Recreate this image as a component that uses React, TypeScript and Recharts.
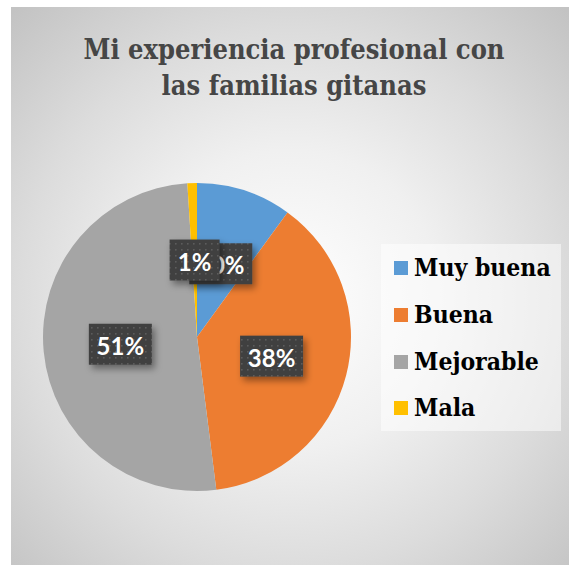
import React from 'react';
import { PieChart, Pie, Cell, Legend } from 'recharts';

const categories = ['Muy buena', 'Buena', 'Mejorable', 'Mala'];
const shares = [10, 38, 51, 1];
const colors = ['#5B9BD5', '#ED7D31', '#A5A5A5', '#FFC000'];
const titleLines = ['Mi experiencia profesional con', 'las familias gitanas'];

const data = categories.map((name, i) => ({ name, value: shares[i] }));

const RAD = Math.PI / 180;
const SERIF = "'DejaVu Serif', serif";

function renderLabel(props: any) {
  const { cx, cy, midAngle, outerRadius, value } = props;
  const r = outerRadius * 0.5;
  const x = cx + r * Math.cos(-midAngle * RAD);
  const y = cy + r * Math.sin(-midAngle * RAD);
  const text = `${value}%`;
  const w = text.length > 2 ? 63 : 50;
  const h = 41;
  return (
    <g>
      <rect
        x={x - w / 2}
        y={y - h / 2}
        width={w}
        height={h}
        fill="url(#dots)"
        filter="url(#boxShadow)"
      />
      <text
        x={x}
        y={y + 1}
        textAnchor="middle"
        dominantBaseline="central"
        fill="#ffffff"
        fontFamily="Lato, 'Open Sans', sans-serif"
        fontWeight="bold"
        fontSize={24}
      >
        {text}
      </text>
    </g>
  );
}

function renderLegend() {
  return (
    <div
      style={{
        width: 180,
        height: 187,
        background: 'rgba(255,255,255,0.5)',
        boxSizing: 'border-box',
        paddingTop: 1,
      }}
    >
      {categories.map((name, i) => (
        <div
          key={name}
          style={{ height: 46.7, display: 'flex', alignItems: 'center', whiteSpace: 'nowrap' }}
        >
          <span
            style={{
              display: 'inline-block',
              width: 14,
              height: 14,
              marginLeft: 13,
              marginRight: 6,
              background: colors[i],
            }}
          />
          <span
            style={{
              fontFamily: SERIF,
              fontStretch: 'condensed',
              fontWeight: 'bold',
              fontSize: 24.5,
              lineHeight: '30px',
              color: '#000',
            }}
          >
            {name}
          </span>
        </div>
      ))}
    </div>
  );
}

export default function App() {
  return (
    <div
      style={{
        position: 'absolute',
        left: 11,
        top: 7,
        width: 558,
        height: 558,
        background:
          'radial-gradient(circle at 279px 293px, #ffffff 0px, #f0f0f0 150px, #dcdcdc 270px, #c3c3c3 400px)',
      }}
    >
      <div
        style={{
          position: 'absolute',
          top: 25,
          left: 0,
          width: 558,
          paddingLeft: 8,
          boxSizing: 'border-box',
          textAlign: 'center',
          whiteSpace: 'nowrap',
          fontFamily: SERIF,
          fontStretch: 'condensed',
          fontWeight: 'bold',
          fontSize: 27,
          lineHeight: '36px',
          color: '#464646',
        }}
      >
        {titleLines.map((l) => (
          <div key={l}>{l}</div>
        ))}
      </div>
      <div style={{ position: 'absolute', left: 0, top: 0 }}>
        <PieChart
          width={558}
          height={558}
          margin={{ top: 0, right: 0, bottom: 0, left: 0 }}
        >
          <defs>
            <pattern id="dots" width="6" height="6" patternUnits="userSpaceOnUse">
              <rect width="6" height="6" fill="#404040" />
              <rect x="2" y="2" width="1.6" height="1.6" fill="#5c5c5c" />
            </pattern>
            <filter id="boxShadow" x="-20%" y="-20%" width="150%" height="160%">
              <feDropShadow dx="3" dy="4" stdDeviation="3.5" floodColor="#000" floodOpacity="0.4" />
            </filter>
          </defs>
          <Pie
            data={data}
            dataKey="value"
            nameKey="name"
            cx={186}
            cy={330}
            outerRadius={154}
            startAngle={90}
            endAngle={-270}
            stroke="none"
            labelLine={false}
            label={renderLabel}
            isAnimationActive={false}
          >
            {data.map((d, i) => (
              <Cell key={d.name} fill={colors[i]} />
            ))}
          </Pie>
          <Legend
            layout="vertical"
            align="right"
            verticalAlign="top"
            content={renderLegend}
            wrapperStyle={{ left: 370, top: 237, width: 180, height: 187 }}
          />
        </PieChart>
      </div>
    </div>
  );
}
